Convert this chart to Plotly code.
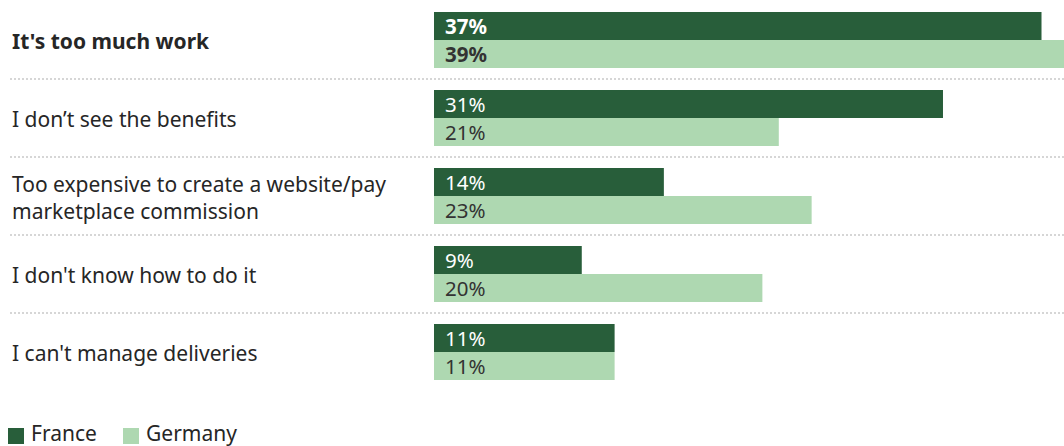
import plotly.graph_objects as go

categories = [
    "It's too much work",
    "I don’t see the benefits",
    "Too expensive to create a website/pay<br>marketplace commission",
    "I don't know how to do it",
    "I can't manage deliveries",
]
france = [37, 31, 14, 9, 11]
germany = [39, 21, 23, 20, 11]
series_names = ["France", "Germany"]

DARK = "#285e3a"
LIGHT = "#aed8b1"
FONT = "Noto Sans"

W, H = 1064, 446
L, R, T, B = 434, 0, 1, 55
plot_w = W - L - R

fig = go.Figure()
for name, vals, col in [(series_names[0], france, DARK), (series_names[1], germany, LIGHT)]:
    fig.add_trace(go.Bar(
        y=categories, x=vals, orientation="h", name=name,
        marker=dict(color=col, line=dict(width=0)),
        showlegend=False, hoverinfo="x+name",
    ))

annotations = []
shapes = []
left_px = 10
left_paper = (left_px - L) / plot_w

for i, cat in enumerate(categories):
    bold = i == 0
    label = f"<b>{cat}</b>" if bold else cat
    annotations.append(dict(
        x=left_paper, xref="paper", y=cat, yref="y", yshift=-1,
        text=label, showarrow=False, xanchor="left", yanchor="middle", align="left",
        font=dict(family=FONT, size=21, color="#262626"),
    ))
    for vals, shift, col in [(france, 14, "#ffffff"), (germany, -14, "#333333")]:
        t = f"{vals[i]}%"
        annotations.append(dict(
            x=0, xref="x", y=cat, yref="y", xshift=9, yshift=shift,
            text=f"<b>{t}</b>" if bold else t, showarrow=False,
            xanchor="left", yanchor="middle",
            font=dict(family=FONT, size=20.5, color=col),
        ))
    if i < len(categories) - 1:
        shapes.append(dict(
            type="line", xref="paper", yref="y",
            x0=left_paper, x1=1, y0=i + 0.5, y1=i + 0.5,
            line=dict(color="#d6d6d6", width=2, dash="2px,2px"),
        ))

# legend drawn as swatches + labels below the plot
leg_y_px = 433
for name, col, x_px in [(series_names[0], DARK, 8), (series_names[1], LIGHT, 123)]:
    x0 = (x_px - L) / plot_w
    x1 = (x_px + 16 - L) / plot_w
    y0 = 1 - (leg_y_px - 5 - T) / (H - T - B)
    y1 = 1 - (leg_y_px + 11 - T) / (H - T - B)
    shapes.append(dict(type="rect", xref="paper", yref="paper",
                       x0=x0, x1=x1, y0=y1, y1=y0,
                       fillcolor=col, line=dict(width=0)))
    annotations.append(dict(
        x=(x_px + 21 - L) / plot_w, xref="paper",
        y=1 - (leg_y_px - T) / (H - T - B), yref="paper",
        text=name, showarrow=False, xanchor="left", yanchor="middle",
        font=dict(family=FONT, size=21, color="#262626"),
    ))

fig.update_layout(
    width=W, height=H,
    margin=dict(l=L, r=R, t=T, b=B, pad=0),
    paper_bgcolor="white", plot_bgcolor="white",
    barmode="group", bargap=22 / 78, bargroupgap=0,
    xaxis=dict(range=[0, 38.37], visible=False, fixedrange=True),
    yaxis=dict(autorange="reversed", showticklabels=False, showgrid=False,
               zeroline=False, showline=False, ticks=""),
    annotations=annotations, shapes=shapes,
    font=dict(family=FONT),
)

fig.write_html("out.html")
